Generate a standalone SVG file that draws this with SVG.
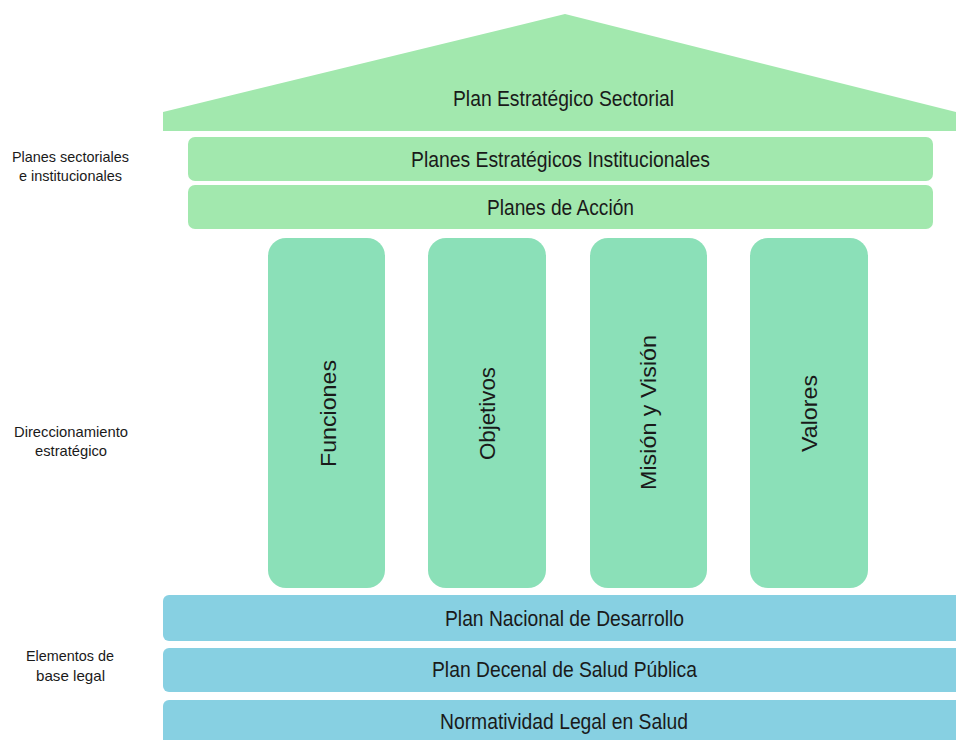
<svg xmlns="http://www.w3.org/2000/svg" width="956" height="740" viewBox="0 0 956 740">
<style>
.t{font-family:"Liberation Sans",Arial,sans-serif;fill:#1a1a1a;text-anchor:middle}
.m{font-size:22px}
.v{font-size:22px}
.s{font-size:15px}
.g{fill:#a2e8ae}
.p{fill:#8be0b8}
.b{fill:#87d0e2}
</style>
<rect width="956" height="740" fill="#ffffff"/>
<g id="roof">
<polygon class="g" points="163,131 163,112 565,14 956,112 956,131"/>
<text class="t m" x="563.5" y="106" textLength="221" lengthAdjust="spacingAndGlyphs">Plan Estratégico Sectorial</text>
</g>
<g id="planes-institucionales">
<rect class="g" x="188" y="137" width="745" height="44" rx="7"/>
<text class="t m" x="560.5" y="167" textLength="299" lengthAdjust="spacingAndGlyphs">Planes Estratégicos Institucionales</text>
</g>
<g id="planes-accion">
<rect class="g" x="188" y="185" width="745" height="44" rx="7"/>
<text class="t m" x="560.5" y="215" textLength="147" lengthAdjust="spacingAndGlyphs">Planes de Acción</text>
</g>
<g id="funciones">
<rect class="p" x="268" y="238" width="117" height="350" rx="18"/>
<text class="t v" transform="translate(336,413.5) rotate(-90)" textLength="107" lengthAdjust="spacingAndGlyphs">Funciones</text>
</g>
<g id="objetivos">
<rect class="p" x="428" y="238" width="118" height="350" rx="18"/>
<text class="t v" transform="translate(495,413.5) rotate(-90)" textLength="93" lengthAdjust="spacingAndGlyphs">Objetivos</text>
</g>
<g id="mision-vision">
<rect class="p" x="590" y="238" width="117" height="350" rx="18"/>
<text class="t v" transform="translate(656,412.5) rotate(-90)" textLength="155" lengthAdjust="spacingAndGlyphs">Misión y Visión</text>
</g>
<g id="valores">
<rect class="p" x="750" y="238" width="118" height="350" rx="18"/>
<text class="t v" transform="translate(817,413.5) rotate(-90)" textLength="77" lengthAdjust="spacingAndGlyphs">Valores</text>
</g>
<g id="plan-nacional">
<rect class="b" x="163" y="595" width="800" height="46" rx="6"/>
<text class="t m" x="564.5" y="626" textLength="239" lengthAdjust="spacingAndGlyphs">Plan Nacional de Desarrollo</text>
</g>
<g id="plan-decenal">
<rect class="b" x="163" y="648" width="800" height="44" rx="6"/>
<text class="t m" x="564.5" y="677" textLength="265" lengthAdjust="spacingAndGlyphs">Plan Decenal de Salud Pública</text>
</g>
<g id="normatividad">
<rect class="b" x="163" y="700" width="800" height="50" rx="6"/>
<text class="t m" x="564" y="729" textLength="248" lengthAdjust="spacingAndGlyphs">Normatividad Legal en Salud</text>
</g>
<g id="label-planes">
<text class="t s" x="70.5" y="162" textLength="117" lengthAdjust="spacingAndGlyphs">Planes sectoriales</text>
<text class="t s" x="70.5" y="181" textLength="103" lengthAdjust="spacingAndGlyphs">e institucionales</text>
</g>
<g id="label-direccionamiento">
<text class="t s" x="71" y="437" textLength="114" lengthAdjust="spacingAndGlyphs">Direccionamiento</text>
<text class="t s" x="71" y="456" textLength="72" lengthAdjust="spacingAndGlyphs">estratégico</text>
</g>
<g id="label-base-legal">
<text class="t s" x="70" y="661" textLength="88" lengthAdjust="spacingAndGlyphs">Elementos de</text>
<text class="t s" x="70.5" y="681" textLength="69" lengthAdjust="spacingAndGlyphs">base legal</text>
</g>
</svg>
